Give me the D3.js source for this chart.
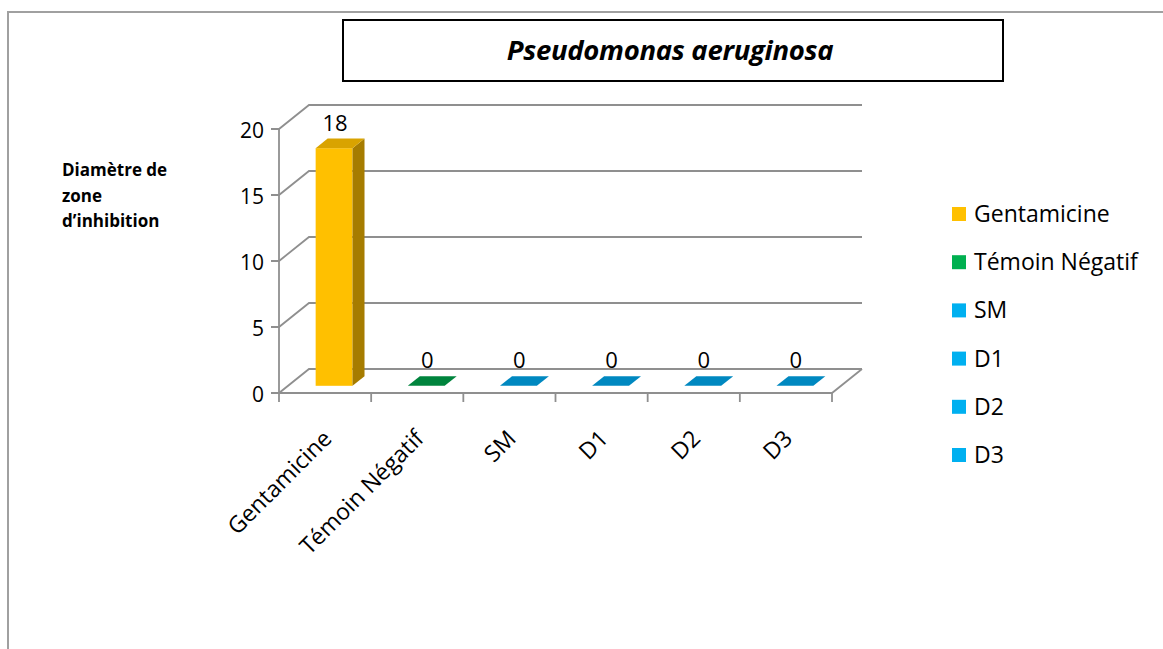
<!DOCTYPE html>
<html>
<head>
<meta charset="utf-8">
<script src="https://cdn.jsdelivr.net/npm/d3@7"></script>
<style>
  html, body { margin: 0; padding: 0; background: #fff; }
  svg { display: block; }
  text { font-family: "Open Sans", "Noto Sans", sans-serif; fill: #000; }
</style>
</head>
<body>
<svg id="chart" width="1163" height="649"></svg>
<script>
// Inhibition-zone diameters per treatment
const categories = ["Gentamicine", "Témoin Négatif", "SM", "D1", "D2", "D3"];
const values = [18, 0, 0, 0, 0, 0];
const yTicks = [0, 5, 10, 15, 20];
const chartTitle = "Pseudomonas aeruginosa";
const yTitleLines = ["Diamètre de", "zone", "d\u2019inhibition"];

// face colours: front, side, top
const palette = {
  "Gentamicine":    { front: "#FFC000", side: "#A67C00", top: "#D9A300", legend: "#FFC000" },
  "Témoin Négatif": { front: "#00B050", side: "#007A38", top: "#00843D", legend: "#00B050" },
  "SM":             { front: "#00B0F0", side: "#0078A8", top: "#0088C0", legend: "#00B0F0" },
  "D1":             { front: "#00B0F0", side: "#0078A8", top: "#0088C0", legend: "#00B0F0" },
  "D2":             { front: "#00B0F0", side: "#0078A8", top: "#0088C0", legend: "#00B0F0" },
  "D3":             { front: "#00B0F0", side: "#0078A8", top: "#0088C0", legend: "#00B0F0" }
};

const svg = d3.select("#chart");
const W = 1163, H = 649;
const grid = "#8f8f8f";

// outer frame (top and left edges)
svg.append("path")
  .attr("d", `M8,${H} L8,12 L${W},12`)
  .attr("fill", "none").attr("stroke", "#a0a0a0").attr("stroke-width", 2);

// title box
svg.append("rect")
  .attr("x", 343).attr("y", 20).attr("width", 660).attr("height", 61)
  .attr("fill", "#fff").attr("stroke", "#000").attr("stroke-width", 2);
svg.append("text")
  .attr("x", 670).attr("y", 60).attr("text-anchor", "middle")
  .style("font-size", "27.5px").style("font-weight", "bold").style("font-style", "italic")
  .style("letter-spacing", "-0.3px")
  .text(chartTitle);

// plot frame
const x0 = 279, x1 = 832;
const x = d3.scaleBand().domain(categories).range([x0, x1]).paddingInner(0.6).paddingOuter(0.3);
const y = d3.scaleLinear().domain([0, 20]).range([393, 129]);
const DX = 30, DY = -24;           // depth of the floor
const bdx = 12, bdy = -9.6;        // depth of each bar
const ox = (DX - bdx) / 2, oy = (DY - bdy) / 2; // bar sits mid-depth

const g = svg.append("g");

// back wall gridlines + side wall diagonals + front ticks
yTicks.forEach(t => {
  const yy = y(t);
  g.append("path")
    .attr("d", `M${x0 - 8},${yy} L${x0},${yy} L${x0 + DX},${yy + DY} L${x1 + DX},${yy + DY}`)
    .attr("fill", "none").attr("stroke", grid).attr("stroke-width", 1.8);
});
// floor front edge and right edge
g.append("path")
  .attr("d", `M${x0},${y(0)} L${x1},${y(0)} L${x1 + DX},${y(0) + DY}`)
  .attr("fill", "none").attr("stroke", grid).attr("stroke-width", 1.8);
// vertical axis
g.append("line")
  .attr("x1", x0).attr("x2", x0).attr("y1", y(0)).attr("y2", y(20))
  .attr("stroke", grid).attr("stroke-width", 1.8);

// category ticks at band boundaries
const step = x.step();
d3.range(categories.length + 1).forEach(i => {
  const xx = x0 + i * step;
  g.append("line")
    .attr("x1", xx).attr("x2", xx).attr("y1", y(0)).attr("y2", y(0) + 9)
    .attr("stroke", grid).attr("stroke-width", 1.8);
});

// y tick labels
g.selectAll(".ytick").data(yTicks).enter().append("text")
  .attr("x", 264).attr("y", d => y(d) + 9)
  .attr("text-anchor", "end").style("font-size", "21px")
  .text(d => d);

// bars (front, side, top faces)
const bars = g.selectAll(".bar").data(categories.map((c, i) => ({ c, v: values[i] })))
  .enter().append("g");

bars.each(function (d) {
  const sel = d3.select(this);
  const c = palette[d.c];
  const fx = x(d.c) + ox, fw = x.bandwidth();
  const yb = y(0) + oy, yt = y(d.v) + oy;
  if (d.v > 0) {
    sel.append("rect")
      .attr("x", fx).attr("y", yt).attr("width", fw).attr("height", yb - yt)
      .attr("fill", c.front);
    sel.append("path")
      .attr("d", `M${fx + fw},${yt} L${fx + fw + bdx},${yt + bdy} L${fx + fw + bdx},${yb + bdy} L${fx + fw},${yb} Z`)
      .attr("fill", c.side);
  }
  sel.append("path")
    .attr("d", `M${fx},${yt} L${fx + bdx},${yt + bdy} L${fx + fw + bdx},${yt + bdy} L${fx + fw},${yt} Z`)
    .attr("fill", c.top);
  // value label
  sel.append("text")
    .attr("x", fx + fw / 2 + bdx / 2 - 5).attr("y", yt + bdy - 8)
    .attr("text-anchor", "middle").style("font-size", "22px")
    .text(d.v);
});

// rotated category labels
g.selectAll(".xlab").data(categories).enter().append("text")
  .attr("transform", d => `translate(${x(d) + x.bandwidth() / 2 + 8},${440}) rotate(-45)`)
  .attr("text-anchor", "end").style("font-size", "23px")
  .text(d => d);

// y-axis title
const yt = svg.append("text").attr("x", 62).attr("y", 176)
  .style("font-size", "17px").style("font-weight", "bold");
yTitleLines.forEach((l, i) => {
  yt.append("tspan").attr("x", 62).attr("dy", i === 0 ? 0 : 25.5).text(l);
});

// legend
const legend = svg.append("g");
categories.forEach((c, i) => {
  const cy = 214 + i * 48.2;
  legend.append("rect")
    .attr("x", 952).attr("y", cy - 7).attr("width", 14).attr("height", 14)
    .attr("fill", palette[c].legend);
  legend.append("text")
    .attr("x", 974).attr("y", cy + 8).style("font-size", "23px")
    .text(c);
});
</script>
</body>
</html>
